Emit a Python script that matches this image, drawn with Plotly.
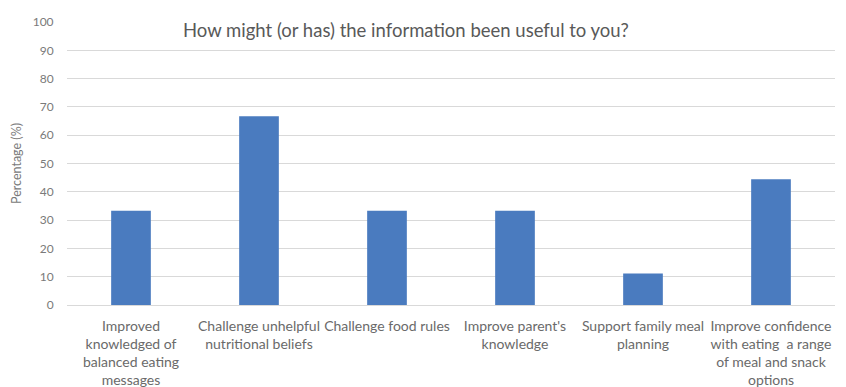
import plotly.graph_objects as go

# Survey responses: share of respondents selecting each option
categories = [
    "Improved<br>knowledged of<br>balanced eating<br>messages",
    "Challenge unhelpful<br>nutritional beliefs",
    "Challenge food rules",
    "Improve parent's<br>knowledge",
    "Support family meal<br>planning",
    "Improve confidence<br>with eating  a range<br>of meal and snack<br>options",
]
percentages = [33.3, 66.7, 33.3, 33.3, 11.1, 44.4]
y_ticks = [0, 10, 20, 30, 40, 50, 60, 70, 80, 90, 100]

title_text = "How might (or has) the information been useful to you?"
y_title = "Percentage (%)"

BAR = "#4a7bbf"
TEXT = "#595959"
GRID = "#d9d9d9"

fig = go.Figure(
    go.Bar(
        x=list(range(len(categories))),
        y=percentages,
        marker=dict(color=BAR, line=dict(width=0)),
        width=0.31,
    )
)

fig.update_layout(
    width=846,
    height=387,
    margin=dict(l=67, r=11, t=22, b=82),
    paper_bgcolor="white",
    plot_bgcolor="white",
    showlegend=False,
    font=dict(family="Lato, Open Sans, sans-serif", color=TEXT),
    annotations=[
        dict(
            text=title_text,
            xref="paper", yref="paper",
            x=0.441, y=0.972,
            xanchor="center", yanchor="middle",
            showarrow=False,
            font=dict(size=18.5, color=TEXT),
        )
    ],
)

fig.update_xaxes(
    tickmode="array",
    tickvals=list(range(len(categories))),
    ticktext=categories,
    range=[-0.5, len(categories) - 0.5],
    tickfont=dict(size=14, color="#6a6a6a"),
    showgrid=False,
    showline=False,
    zeroline=False,
    ticks="outside",
    ticklen=8,
    tickcolor="rgba(0,0,0,0)",
    automargin=False,
)

fig.update_yaxes(
    range=[0, 100],
    tickmode="array",
    tickvals=y_ticks,
    tickfont=dict(size=12, color="#7a7a7a"),
    showgrid=True,
    gridcolor=GRID,
    gridwidth=1,
    zeroline=True,
    zerolinecolor=GRID,
    zerolinewidth=1,
    showline=False,
    ticks="outside",
    ticklen=10,
    tickcolor="rgba(0,0,0,0)",
    automargin=False,
    title=dict(text=y_title, font=dict(size=12.5, color="#7a7a7a"), standoff=8),
)

fig.write_html("out.html")
